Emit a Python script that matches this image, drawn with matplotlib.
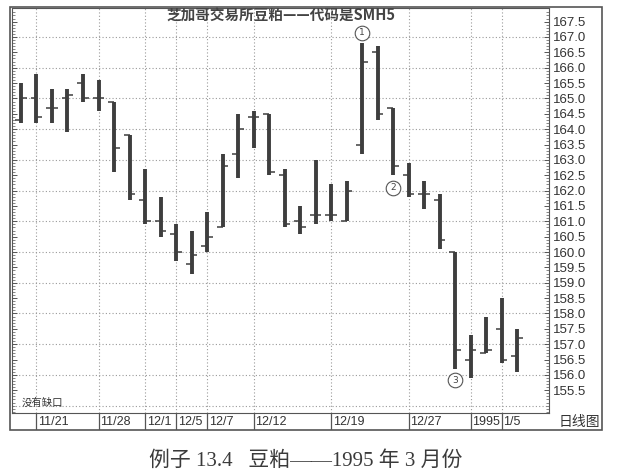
import matplotlib
matplotlib.use("Agg")
import matplotlib.pyplot as plt
from matplotlib.patches import Rectangle
import numpy as np

plt.rcParams['font.family'] = ['Noto Sans CJK SC', 'DejaVu Sans']

# daily OHLC, soybean meal March 1995 (SMH5)
opens = [164.3, 165.0, 164.7, 165.0, 165.5, 165.0, 164.9, 163.8, 161.7, 161.0,
         160.6, 159.6, 160.2, 160.8, 163.2, 164.4, 164.5, 162.5, 161.0, 161.2,
         161.2, 161.0, 163.5, 166.5, 164.7, 162.5, 161.9, 161.7, 160.0, 156.5,
         156.7, 157.5, 156.6]
highs = [165.5, 165.8, 165.3, 165.3, 165.8, 165.6, 164.9, 163.8, 162.7, 161.8,
         160.9, 160.7, 161.3, 163.2, 164.5, 164.6, 164.5, 162.7, 161.5, 163.0,
         162.2, 162.3, 166.8, 166.7, 164.7, 162.9, 162.3, 161.9, 160.0, 157.3,
         157.9, 158.5, 157.5]
lows = [164.2, 164.2, 164.2, 163.9, 164.9, 164.6, 162.6, 161.7, 160.9, 160.5,
        159.7, 159.3, 160.0, 160.8, 162.4, 163.4, 162.5, 160.8, 160.6, 160.9,
        161.0, 161.0, 163.2, 164.3, 162.5, 161.8, 161.4, 160.1, 156.2, 155.9,
        156.7, 156.4, 156.1]
closes = [165.0, 164.4, 164.7, 165.1, 165.0, 165.0, 163.4, 161.9, 161.0, 160.7,
          160.0, 159.9, 160.5, 162.8, 164.0, 164.4, 162.6, 160.9, 160.8, 161.2,
          161.2, 162.0, 166.2, 164.5, 162.8, 161.9, 161.9, 160.4, 156.8, 156.8,
          156.8, 156.5, 157.2]

date_pos = [2, 6, 9, 11, 13, 16, 21, 26, 30, 32]
date_labels = ['11/21', '11/28', '12/1', '12/5', '12/7', '12/12', '12/19',
               '12/27', '1995', '1/5']

# circled markers: bar index, price, label
marks_x = [23, 25, 29]
marks_y = [167.13, 162.1, 155.83]
marks_txt = ['1', '2', '3']

W, H = 623, 476
NARROW = ['Liberation Sans', 'DejaVu Sans']


def fx(px):
    return px / W


def fy(py):
    return 1 - py / H


fig = plt.figure(figsize=(6.23, 4.76), dpi=100)
fig.patch.set_facecolor('white')

ax = fig.add_axes([fx(12), fy(413), fx(549) - fx(12), fy(7.5) - fy(413)])
ax.set_xlim(0.42, 35.06)
ax.set_ylim(154.76, 167.96)

grid_col = '#9a9a9a'
ax.hlines(np.arange(155, 168, 1.0), 0.42, 35.06, colors=grid_col, lw=0.8,
          linestyles=(0, (1, 2)), zorder=1)
ax.vlines(date_pos, 154.76, 167.96, colors=grid_col, lw=0.8,
          linestyles=(0, (1, 2)), zorder=1)

x = np.arange(1, len(opens) + 1)
bar_col = '#3e3e3e'
ax.vlines(x, lows, highs, colors=bar_col, lw=2.8, zorder=3)
ax.hlines(opens, x - 0.36, x, colors=bar_col, lw=1.1, zorder=3)
ax.hlines(closes, x, x + 0.36, colors=bar_col, lw=1.1, zorder=3)

ax.plot(marks_x, marks_y, 'o', ms=10.5, mfc='white', mec='#555555', mew=0.8,
        zorder=4)
for mx, my, t in zip(marks_x, marks_y, marks_txt):
    ax.text(mx, my, t, ha='center', va='center', fontsize=6.5,
            color='#444444', family=['DejaVu Sans'], zorder=5)

ax.set_xticks([])
ax.yaxis.tick_right()
ax.set_yticks(np.arange(155.5, 167.51, 0.5))
ax.set_yticks(np.arange(154.8, 167.9, 0.1), minor=True)
ax.set_yticklabels(['%.1f' % v for v in np.arange(155.5, 167.51, 0.5)],
                   family=NARROW, fontsize=9.5, color='#333333')
ax.tick_params(axis='y', which='both', left=True, right=True,
               direction='in', labelleft=False, labelright=True,
               color='#555555', pad=3)
ax.tick_params(axis='y', which='major', length=3.5, width=0.7)
ax.tick_params(axis='y', which='minor', length=2, width=0.5)
for s in ax.spines.values():
    s.set_color('#555555')
    s.set_linewidth(0.8)

ax.text(0.5, 0.979, '芝加哥交易所豆粕——代码是SMH5', transform=ax.transAxes,
        ha='center', va='center', fontsize=10.5, color='#444444',
        fontweight='bold')
ax.text(0.018, 0.013, '没有缺口', transform=ax.transAxes, ha='left',
        va='bottom', fontsize=7.5, color='#333333')

# date strip under the chart
dax = fig.add_axes([fx(12), fy(430), fx(549) - fx(12), fy(413) - fy(430)])
dax.set_xlim(0.42, 35.06)
dax.set_ylim(0, 1)
dax.axis('off')
dax.vlines(date_pos, 0, 1, colors='#555555', lw=0.9)
for p, lab in zip(date_pos, date_labels):
    dax.text(p + 0.12, 0.45, lab, ha='left', va='center', fontsize=9,
             color='#333333', family=NARROW)

fig.text(fx(579), fy(422), '日线图', ha='center', va='center', fontsize=10,
         color='#333333')

fig.add_artist(Rectangle((fx(10), fy(430)), fx(602) - fx(10),
                         fy(7) - fy(430), fill=False, lw=1.2, ec='#555555',
                         transform=fig.transFigure))

fig.text(fx(306), fy(461), '例子 13.4   豆粕——1995 年 3 月份', ha='center',
         va='center', fontsize=15, color='#3a3a3a',
         family=['Liberation Serif', 'Noto Sans CJK SC'])

fig.savefig('out.png', dpi=100)
